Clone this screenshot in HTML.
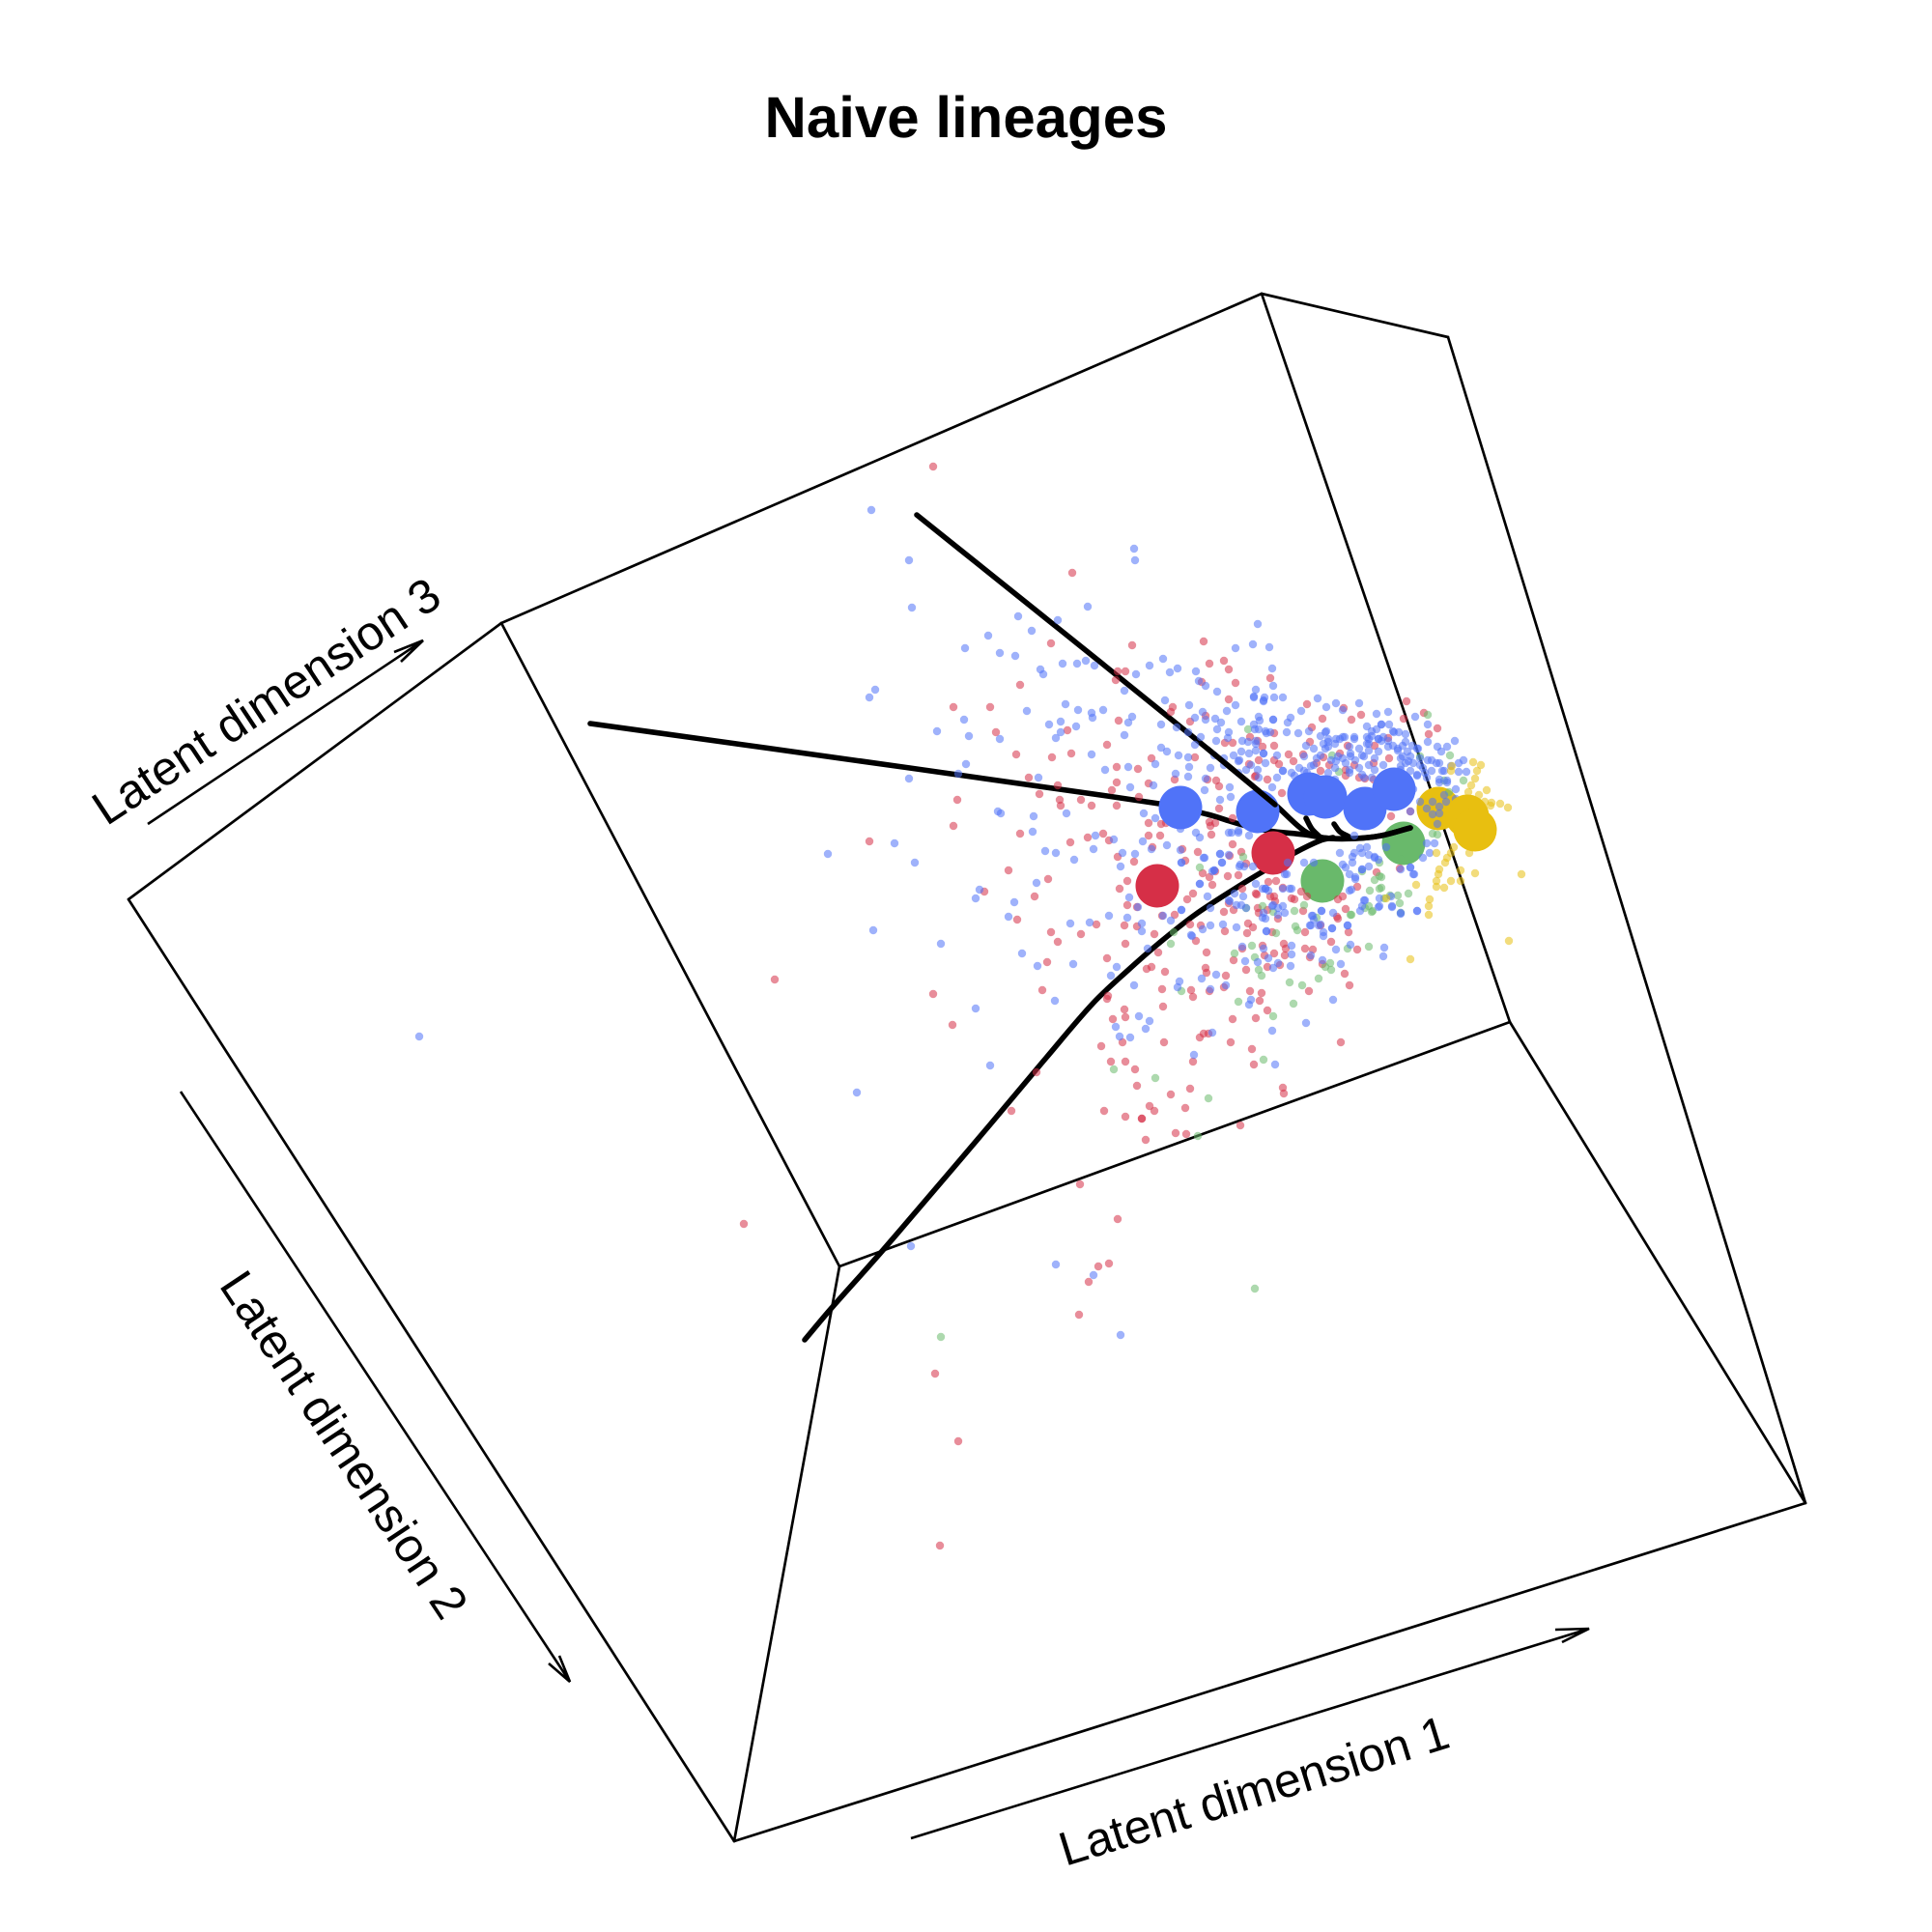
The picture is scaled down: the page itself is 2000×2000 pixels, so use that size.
<!DOCTYPE html>
<html lang="en">
<head>
<meta charset="utf-8">
<title>Naive lineages</title>
<style>
html,body{margin:0;padding:0;background:#fff;}
svg{display:block;}
text{font-family:"Liberation Sans",sans-serif;fill:#000;text-rendering:geometricPrecision;}
</style>
</head>
<body>
<svg id="chart" xmlns="http://www.w3.org/2000/svg" width="2000" height="2000" viewBox="0 0 2000 2000">
<rect width="2000" height="2000" fill="#fff"/>
<g id="frame"></g>
<g id="bigBase"></g>
<g id="curves"></g>
<g id="bigUnder"></g>
<g id="dots"></g>
<g id="bigOver"></g>
<g id="curvesTop"></g>
<text x="1000" y="142" font-size="60" font-weight="bold" text-anchor="middle">Naive lineages</text>
<g fill="none" stroke="#000" stroke-width="2.6">
<path d="M943 1903L1645 1686M1610 1687L1645 1686L1617 1700"/>
<path d="M187 1130L590 1741M568 1722L590 1741L579 1714"/>
<path d="M153 853L438 663M408 675L438 663L415 685"/>
</g>
<text font-size="49.6" text-anchor="middle" transform="translate(1303 1870) rotate(-17.2)">Latent dimension 1</text>
<text font-size="49.6" text-anchor="middle" transform="translate(342 1505) rotate(56.4)">Latent dimension 2</text>
<text font-size="49.6" text-anchor="middle" transform="translate(285 740) rotate(-33.5)">Latent dimension 3</text>
</svg>
<script>
// Projected coordinates of the cube corners and edges
const cubeCorners = {a:[133,931],b:[519,645],c:[1306,304],d:[1499,349],e:[1869,1556],f:[760,1906],g:[869,1311],h:[1563,1058]};
const cubeEdges = [["a","b"],["b","c"],["c","d"],["d","e"],["e","f"],["f","a"],["b","g"],["g","h"],["h","c"],["g","f"],["h","e"]];

// Lineage curves (projected coordinates)
const curveTop = [[949,533],[1095,650],[1250,775],[1320,833],[1350,860],[1368,867],[1403,868],[1430,865],[1460,857]];
const curveLeft = [[611,749],[820,778],[1200,832],[1250,843],[1283,853],[1313,860],[1350,864],[1377,868],[1403,868],[1430,865],[1460,857]];
const curveBottom = [[833,1387],[860,1355],[915,1293],[1020,1170],[1083,1095],[1132,1038],[1167,1005],[1199,977],[1237,947],[1283,917],[1306,903],[1340,883],[1367,870],[1380,867]];
const curveStubA = [[1352,847],[1358,858],[1366,866]];
const curveStubB = [[1381,853],[1387,861],[1396,866]];
const curveTopOverlay = [[1250,775],[1320,833]];

// Cell points (projected coordinates)
const redPoints = [[966,483],[1110,593],[1088,666],[1172,668],[1246,664],[1252,687],[1267,684],[1272,693],[1279,707],[1315,702],[1157,695],[1165,695],[1155,704],[1056,709],[1244,706],[987,732],[1025,732],[1214,732],[1212,737],[1158,746],[1248,741],[1031,758],[1105,756],[1146,771],[1232,747],[1052,781],[1089,784],[1109,780],[1192,785],[1237,784],[1156,794],[1178,796],[1156,810],[1065,805],[1095,813],[1189,811],[1151,818],[1216,807],[1076,822],[1179,825],[991,828],[1097,828],[1119,828],[1098,834],[1130,834],[1156,834],[987,855],[1056,863],[1189,852],[1202,853],[1207,852],[1189,865],[1201,865],[1142,863],[1126,867],[1148,870],[1108,872],[900,871],[1193,877],[1224,879],[1240,882],[1157,887],[1174,892],[1227,891],[1044,901],[1085,910],[1167,912],[1159,920],[1245,904],[1235,925],[1229,931],[1071,928],[1019,923],[1053,952],[1167,937],[1177,939],[1216,947],[1203,948],[1232,957],[1135,957],[1164,958],[1177,959],[1243,958],
[1272,724],[1353,729],[1391,733],[1399,745],[1409,740],[1369,744],[1358,753],[1456,726],[1453,744],[1474,738],[1488,754],[1479,760],[1437,764],[1395,772],[1423,772],[1356,768],[1319,759],[1294,763],[1268,769],[1276,769],[1302,767],[1307,773],[1319,772],[1293,791],[1303,787],[1319,787],[1324,791],[1334,781],[1349,781],[1339,788],[1370,784],[1387,780],[1438,785],[1376,792],[1363,790],[1367,798],[1393,797],[1402,792],[1422,790],[1259,808],[1262,814],[1250,807],[1299,804],[1312,807],[1327,821],[1262,837],[1276,847],[1253,855],[1393,803],[1407,805],[1413,806],[1422,807],[1460,840],[1440,845],[1276,874],[1273,886],[1285,882],[1290,894],[1258,902],[1252,908],[1255,916],[1313,913],[1321,912],[1301,926],[1319,928],[1337,930],[1328,919],[1347,923],[1353,928],[1385,931],[1390,928],[1393,941],[1405,918],[1425,903],[1449,899],[1384,949],[1349,943],[1267,944],[1277,942],[1286,920],[1303,945],[1312,942],[1320,933],[1252,851],[1258,852],[1254,864],[1272,935],[1271,907],[1282,906],[1300,803],[1300,925],[1302,940],[1315,928],[1340,931],
[1088,965],[1119,967],[1095,975],[1165,977],[1195,967],[1238,974],[1199,986],[1249,986],[1268,964],[1277,994],[1146,992],[1084,996],[1187,1003],[1192,1001],[1206,1006],[1248,1002],[1249,1007],[1269,1010],[966,1029],[1079,1025],[1203,1024],[1233,1025],[1235,1032],[1252,1026],[1267,1022],[986,1061],[1146,1034],[1147,1031],[1204,1042],[1164,1045],[1152,1055],[1165,1053],[1276,1055],[1242,1074],[1246,1070],[1251,1070],[1274,1079],[1205,1079],[1162,1079],[1140,1083],[1150,1099],[1165,1099],[1235,1099],[1175,1107],[1073,1110],[1177,1124],[1232,1127],[1212,1133],[1227,1147],[1190,1145],[1195,1150],[1143,1150],[1165,1156],[1182,1158],[1182,1158],[1047,1150],[1217,1173],[1228,1174],[1186,1180],[1118,1226],[1157,1262],[1137,1311],[1148,1308],[1127,1327],[1117,1361],[968,1422],[992,1492],[973,1600],[770,1267],[802,1014],
[1292,956],[1297,960],[1291,966],[1323,951],[1317,965],[1351,965],[1385,951],[1396,965],[1367,958],[1378,975],[1351,982],[1359,983],[1356,991],[1405,983],[1329,977],[1331,982],[1330,989],[1319,987],[1307,979],[1286,982],[1309,989],[1312,1001],[1325,999],[1290,1004],[1369,998],[1392,1008],[1397,1020],[1355,1026],[1294,1026],[1306,1028],[1304,1036],[1312,1046],[1300,1054],[1388,1079],[1296,1086],[1298,1102],[1328,1126],[1329,1132],[1284,1165]];

const greenPoints = [[1478,740],[1292,755],[1379,782],[1386,799],[1470,783],[1501,782],[1495,808],[1515,808],[1500,820],[1287,887],[1450,890],[1483,863],[1488,864],[1430,908],[1423,911],[1428,920],[1418,922],[1439,927],[1447,927],[1458,925],[1449,935],[1450,945],[1421,943],[1413,940],[1340,943],[1350,937],[1290,940],[1307,938],[1318,944],[1398,947],[1363,950],[1433,930],[1410,902],[1428,893],[1242,898],[1428,907],[1430,919],[1417,938],[1420,944],[1399,947],
[1212,977],[1223,1026],[1153,1107],[1196,1116],[1251,1137],[1240,1176],[974,1384],[1299,1334],[1278,987],[1215,965],
[1341,959],[1343,963],[1321,966],[1296,979],[1395,982],[1417,980],[1299,991],[1303,1004],[1306,1010],[1335,1017],[1348,1020],[1365,1013],[1377,997],[1372,1001],[1378,1004],[1282,1037],[1339,1039],[1318,1052],[1308,1097]];

const bluePoints = [[902,528],[941,580],[944,629],[1174,568],[1175,580],[1126,628],[1054,638],[1095,642],[1068,653],[1023,658],[999,671],[1035,676],[1051,679],[1077,693],[1080,698],[1100,687],[1115,687],[1124,684],[1133,689],[1176,698],[1190,689],[1204,682],[1211,696],[1219,692],[1238,695],[1241,705],[1248,710],[1260,716],[1279,671],[1297,667],[1302,646],[1314,670],[1317,692],[1300,714],[1298,721],[1309,722],[1308,726],[1318,710],[906,714],[900,722],[1164,715],[1206,725],[1231,730],[1103,729],[1063,736],[1116,735],[1130,738],[1131,743],[1142,735],[1172,742],[1168,748],[998,745],[1086,750],[1098,747],[1114,752],[1098,758],[1093,764],[970,757],[1003,762],[1035,765],[1202,750],[1164,761],[1237,743],[1245,737],[1248,745],[1218,753],[1230,758],[1243,763],[1237,771],[1202,774],[1208,778],[1220,782],[1230,784],[1130,781],[1196,791],[1168,794],[1144,797],[1000,791],[992,801],[941,806],[1075,805],[1170,815],[1194,813],[1217,801],[1231,794],[1230,804],[1248,806],[1247,818],[1033,840],[1036,842],[1070,845],[1104,842],[1184,842],[1196,847],[1069,861],[926,873],[857,884],[947,893],[1082,881],[1093,883],[1112,890],[1132,879],[1134,865],[1153,869],[1162,883],[1175,884],[1160,897],[1208,875],[1183,871],[1192,879],[1222,880],[1246,888],[1223,893],[1222,858],[1238,862],[1242,867],[1242,915],[1073,914],[1014,921],[1010,930],[1050,934],[1044,949],[1169,929],[1178,939],[1148,948],[1167,950],[1128,955],[1108,956],[1182,956],[1204,948],[1223,942],
[1298,722],[1308,725],[1319,722],[1328,722],[1364,723],[1373,732],[1383,728],[1407,728],[1390,735],[1425,739],[1437,737],[1270,736],[1279,730],[1347,736],[1336,743],[1318,745],[1304,746],[1285,747],[1258,744],[1264,748],[1260,755],[1333,748],[1332,758],[1344,759],[1355,757],[1311,759],[1299,755],[1272,758],[1271,764],[1259,767],[1286,767],[1300,767],[1373,757],[1367,762],[1375,768],[1383,765],[1390,763],[1402,763],[1415,752],[1420,757],[1430,750],[1438,750],[1443,758],[1415,763],[1417,770],[1427,765],[1437,773],[1447,775],[1455,768],[1465,742],[1478,750],[1478,768],[1467,775],[1488,773],[1498,773],[1506,767],[1492,778],[1450,785],[1458,788],[1470,792],[1482,787],[1490,790],[1495,798],[1510,790],[1515,787],[1518,799],[1510,799],[1507,817],[1498,808],[1490,810],[1475,800],[1467,803],[1460,798],[1450,793],[1463,817],[1470,830],[1460,840],[1433,803],[1410,802],[1397,800],[1382,807],[1360,792],[1353,800],[1372,758],[1398,783],[1412,783],[1423,785],[1430,767],[1390,785],[1383,788],[1372,775],[1350,798],[1337,800],[1328,798],[1322,782],[1308,780],[1293,780],[1283,787],[1277,782],[1267,785],[1257,782],[1253,795],[1267,792],[1282,800],[1290,797],[1303,805],[1317,815],[1273,815],[1274,825],[1263,828],[1272,862],[1282,860],[1293,865],[1263,884],[1255,902],[1393,898],[1403,908],[1387,883],[1400,887],[1410,883],[1415,877],[1423,887],[1435,877],[1417,897],[1410,900],[1427,890],[1402,865],[1450,900],[1460,898],[1464,905],[1477,873],[1480,883],[1485,873],[1333,893],[1350,893],[1360,893],[1330,905],[1337,920],[1318,937],[1328,938],[1310,920],[1307,950],[1368,943],[1358,948],[1410,938],[1412,932],[1428,938],[1441,938],[1450,946],[1467,943],[1399,921],[1440,928],[1323,947],[1483,830],[1490,835],[1497,830],[1483,843],[1477,837],[1507,827],[1498,810],[1495,823],[1488,853],[1490,842],[1272,885],[1285,937],[1300,915],[1310,920],[1273,933],[1288,897],[1265,893],[1284,895],[1257,901],[1253,940],
[904,963],[974,977],[1058,987],[1074,1000],[1111,998],[1156,1001],[1150,1010],[1174,1020],[1188,982],[1182,964],[1221,1016],[1219,1022],[1244,1013],[1259,1009],[1253,1024],[1269,1020],[1234,969],[1245,962],[1010,1044],[1092,1036],[1179,1052],[1190,1057],[1186,1065],[1155,1063],[1159,1073],[1170,1074],[1255,1069],[1236,1092],[1025,1103],[887,1131],[943,1290],[1093,1309],[1132,1320],[1160,1382],[434,1073],
[1310,951],[1311,964],[1360,952],[1356,958],[1365,958],[1379,961],[1395,958],[1370,969],[1398,978],[1383,983],[1433,981],[1432,990],[1337,979],[1337,988],[1286,980],[1308,982],[1357,989],[1313,992],[1289,995],[1302,996],[1323,997],[1318,1002],[1336,1000],[1369,994],[1388,998],[1295,1035],[1293,1040],[1380,1035],[1352,1059],[1317,1067],[1320,1102]];

const blueClusterUpper = [[1370,770],[1375,765],[1375,773],[1382,770],[1387,765],[1392,763],[1397,773],[1402,765],[1407,775],[1415,770],[1417,765],[1420,762],[1427,765],[1432,763],[1437,767],[1430,750],[1425,755],[1442,757],[1448,758],[1455,760],[1442,772],[1452,772],[1447,777],[1457,778],[1462,772],[1468,775],[1452,783],[1460,783],[1470,785],[1478,787],[1487,790],[1463,790],[1455,790],[1450,797],[1473,795],[1482,798],[1493,798],[1502,793],[1467,802],[1477,805],[1490,807],[1427,778],[1417,777],[1410,782],[1403,787],[1398,780],[1393,790],[1385,783],[1378,787],[1363,785],[1357,793],[1367,782],[1350,783],[1360,775],[1352,772],[1407,795],[1417,792],[1432,792],[1423,797],[1412,805],[1420,805],[1397,797],[1382,795],[1375,800],[1345,795],[1340,803],[1328,798],[1322,805],[1310,790],[1302,797],[1295,792],[1282,788],[1285,778],[1300,777],[1308,780],[1300,770],[1292,768],[1310,757],[1303,755],[1298,750],[1315,758],[1303,742],[1318,745]];

const blueClusterLower = [[1400,893],[1410,900],[1397,905],[1390,895],[1417,885],[1408,878],[1402,883],[1423,888],[1397,922],[1403,910],[1413,932],[1408,943],[1428,930],[1427,939],[1441,939],[1450,945],[1467,943],[1463,905],[1460,898],[1473,888],[1380,945],[1368,943],[1359,948],[1357,958],[1367,957],[1379,961],[1395,958],[1335,920],[1328,920],[1332,905],[1307,920],[1313,922],[1317,938],[1308,945],[1323,940],[1330,945],[1290,940],[1280,937],[1272,932],[1287,928],[1278,925],[1250,928],[1242,915],[1283,897],[1297,897],[1265,893],[1257,901],[1263,884],[1247,888],[1223,893],[1223,942],[1212,953],[1253,958],[1266,957],[1280,960],[1311,964],[1370,965],[1233,968],[1275,862],[1282,862]];

const yellowPoints = [[1525,789],[1533,792],[1529,798],[1527,806],[1523,813],[1520,820],[1502,798],[1503,793],[1539,818],[1531,823],[1537,830],[1544,831],[1543,834],[1553,832],[1561,836],[1575,905],[1527,904],[1521,883],[1512,901],[1512,912],[1502,912],[1495,919],[1487,918],[1487,912],[1489,905],[1490,900],[1487,883],[1505,877],[1502,883],[1498,888],[1496,893],[1480,931],[1479,938],[1479,947],[1466,916],[1435,930],[1562,974],[1460,993]];

// Centroids (projected coordinates)
const greenCentroids = [[1369,912],[1453,873]];
const redCentroids = [[1198,917],[1318,883]];
const yellowCentroidsUnder = [[1489,837]];
const blueCentroids = [[1222,836],[1302,840],[1355,822],[1372,825],[1413,837],[1443,817]];
const yellowCentroidsOver = [[1519,845],[1527,859]];

// Axis functions: projected coordinate to page pixel
const xDomain = [0, 2000], xRange = [0, 2000];
const yDomain = [0, 2000], yRange = [0, 2000];
function xScale(v){ return xRange[0] + (v - xDomain[0]) / (xDomain[1] - xDomain[0]) * (xRange[1] - xRange[0]); }
function yScale(v){ return yRange[0] + (v - yDomain[0]) / (yDomain[1] - yDomain[0]) * (yRange[1] - yRange[0]); }

const NS = "http://www.w3.org/2000/svg";

function drawEdge(pair){
  const p = cubeCorners[pair[0]], q = cubeCorners[pair[1]];
  const el = document.createElementNS(NS, "line");
  
  
  el.setAttribute("x1", xScale(p[0]));
  el.setAttribute("y1", yScale(p[1]));
  el.setAttribute("x2", xScale(q[0]));
  el.setAttribute("y2", yScale(q[1]));
  el.setAttribute("stroke", "#000");
  el.setAttribute("stroke-width", "2.7");
  el.setAttribute("stroke-linecap", "round");
  document.getElementById("frame").appendChild(el);
}
cubeEdges.forEach(drawEdge);

function smoothPath(points){
  const pts = points.map(function(p){ return [xScale(p[0]), yScale(p[1])]; });
  let d = "M" + pts[0][0] + " " + pts[0][1];
  for (let i = 0; i < pts.length - 1; i++) {
    const p0 = pts[Math.max(i - 1, 0)], p1 = pts[i], p2 = pts[i + 1], p3 = pts[Math.min(i + 2, pts.length - 1)];
    const seg = Math.hypot(p2[0] - p1[0], p2[1] - p1[1]);
    const t1 = Math.hypot(p2[0] - p0[0], p2[1] - p0[1]) || 1;
    const t2 = Math.hypot(p3[0] - p1[0], p3[1] - p1[1]) || 1;
    const c1x = p1[0] + (p2[0] - p0[0]) / t1 * seg / 3, c1y = p1[1] + (p2[1] - p0[1]) / t1 * seg / 3;
    const c2x = p2[0] - (p3[0] - p1[0]) / t2 * seg / 3, c2y = p2[1] - (p3[1] - p1[1]) / t2 * seg / 3;
    d += "C" + c1x + " " + c1y + " " + c2x + " " + c2y + " " + p2[0] + " " + p2[1];
  }
  return d;
}

function drawCurve(points, parentId){
  const el = document.createElementNS(NS, "path");
  
  
  el.setAttribute("d", smoothPath(points));
  el.setAttribute("fill", "none");
  el.setAttribute("stroke", "#000");
  el.setAttribute("stroke-width", "5.6");
  el.setAttribute("stroke-linecap", "round");
  el.setAttribute("stroke-linejoin", "round");
  document.getElementById(parentId).appendChild(el);
}

function drawDot(parentId, p, r, color, opacity){
  const el = document.createElementNS(NS, "circle");
  
  
  el.setAttribute("cx", xScale(p[0]));
  el.setAttribute("cy", yScale(p[1]));
  el.setAttribute("r", r);
  el.setAttribute("fill", color);
  if (opacity < 1) el.setAttribute("fill-opacity", opacity);
  document.getElementById(parentId).appendChild(el);
}

const RED = "#d62f47", BLUE = "#5073f8", GREEN = "#69b96b", YELLOW = "#e8bf10";
greenCentroids.forEach(function(p){ drawDot("bigBase", p, 22.5, GREEN, 1); });
[curveTop, curveLeft, curveBottom, curveStubA, curveStubB].forEach(function(c){ drawCurve(c, "curves"); });
redCentroids.forEach(function(p){ drawDot("bigUnder", p, 22.5, RED, 1); });
yellowCentroidsUnder.forEach(function(p){ drawDot("bigUnder", p, 22.5, YELLOW, 1); });
redPoints.forEach(function(p){ drawDot("dots", p, 4.2, RED, 0.55); });
greenPoints.forEach(function(p){ drawDot("dots", p, 4.2, GREEN, 0.55); });
bluePoints.forEach(function(p){ drawDot("dots", p, 4.2, BLUE, 0.55); });
blueClusterUpper.forEach(function(p){ drawDot("dots", p, 4.2, BLUE, 0.55); });
blueClusterLower.forEach(function(p){ drawDot("dots", p, 4.2, BLUE, 0.55); });
yellowPoints.forEach(function(p){ drawDot("dots", p, 4.2, YELLOW, 0.55); });
blueCentroids.forEach(function(p){ drawDot("bigOver", p, 22.5, BLUE, 1); });
yellowCentroidsOver.forEach(function(p){ drawDot("bigOver", p, 22.5, YELLOW, 1); });
drawCurve(curveTopOverlay, "curvesTop");
</script>
</body>
</html>
